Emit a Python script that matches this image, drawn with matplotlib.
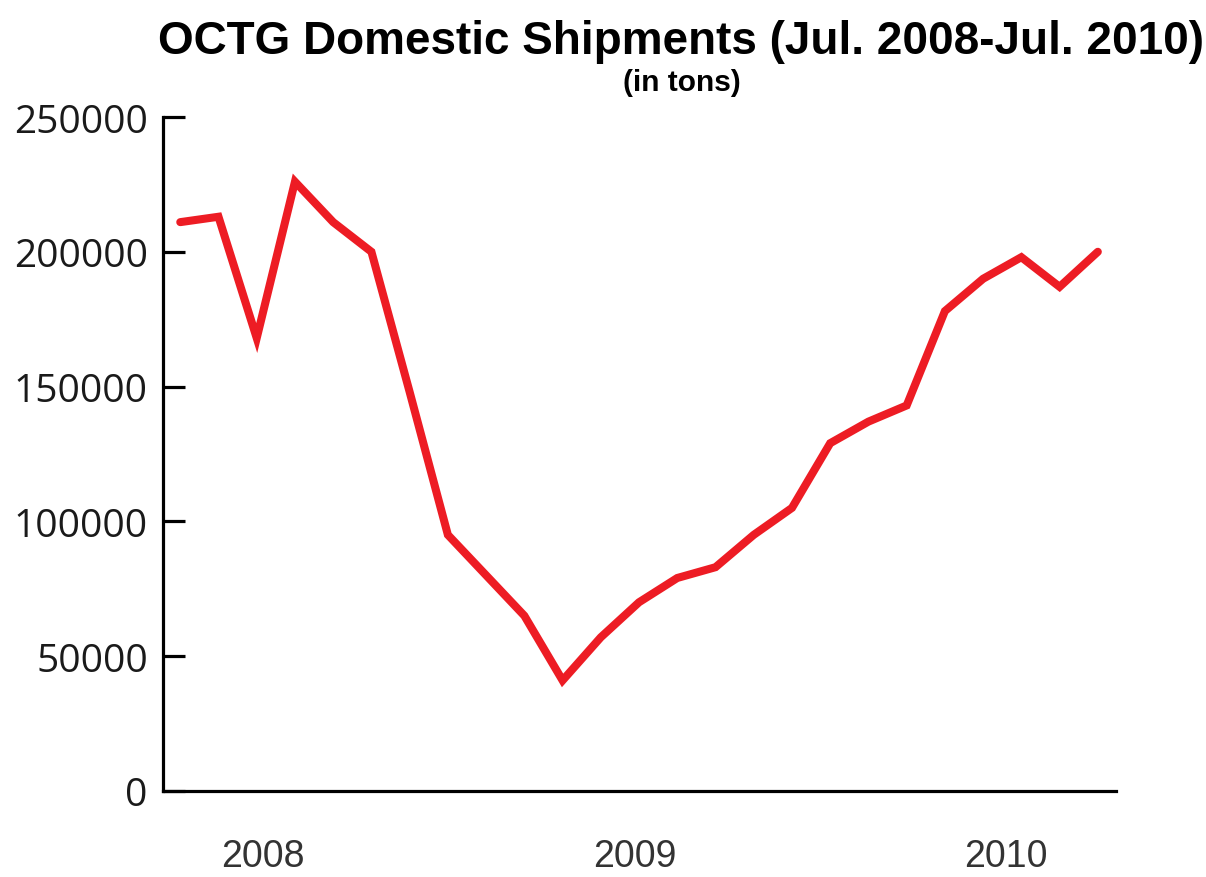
#!/usr/bin/env python3
"""OCTG domestic shipments, Jul. 2008 - Jul. 2010 (in tons)."""

import matplotlib

matplotlib.use("Agg")
import matplotlib.pyplot as plt

# monthly shipments, Jul 2008 .. Jul 2010
months = [
    "2008-07", "2008-08", "2008-09", "2008-10", "2008-11", "2008-12",
    "2009-01", "2009-02", "2009-03", "2009-04", "2009-05", "2009-06",
    "2009-07", "2009-08", "2009-09", "2009-10", "2009-11", "2009-12",
    "2010-01", "2010-02", "2010-03", "2010-04", "2010-05", "2010-06",
    "2010-07",
]
shipments = [
    211000, 213000, 168000, 226000, 211000, 200000,
    148000, 95000, 80000, 65000, 41000, 57000,
    70000, 79000, 83000, 95000, 105000, 129000,
    137000, 143000, 178000, 190000, 198000, 187000,
    200000,
]
year_labels = ["2008", "2009", "2010"]
year_label_pos = [2.15, 11.9, 21.6]
y_ticks = [0, 50000, 100000, 150000, 200000, 250000]

RED = "#ED1C24"

fig = plt.figure(figsize=(12.06, 8.78), dpi=100)
ax = fig.add_axes([0.1352, 0.098, 0.790, 0.7676])

x = list(range(len(months)))
ax.plot(x, shipments, color=RED, linewidth=5.8, solid_joinstyle="miter",
        solid_capstyle="round")

ax.set_xlim(-0.45, 24.47)
ax.set_ylim(0, 250000)

for side in ("top", "right"):
    ax.spines[side].set_visible(False)
for side in ("left", "bottom"):
    ax.spines[side].set_linewidth(2.3)
    ax.spines[side].set_color("black")

ax.set_yticks(y_ticks)
ax.set_yticklabels([str(v) for v in y_ticks], fontfamily="Open Sans",
                   fontsize=28, color="#1a1a1a")
ax.tick_params(axis="y", direction="in", length=16, width=2.3, pad=11)

ax.set_xticks(year_label_pos)
ax.set_xticklabels(year_labels, fontfamily="Liberation Sans", fontsize=27,
                   color="#333333")
ax.tick_params(axis="x", length=0, pad=34)

fig.text(0.5645, 0.938, "OCTG Domestic Shipments (Jul. 2008-Jul. 2010)",
         ha="center", va="baseline", fontfamily="Liberation Sans",
         fontweight="bold", fontsize=33, color="black")
fig.text(0.5655, 0.896, "(in tons)", ha="center", va="baseline",
         fontfamily="Liberation Sans", fontweight="bold", fontsize=21.5,
         color="black")

fig.savefig("out.png", dpi=100)
